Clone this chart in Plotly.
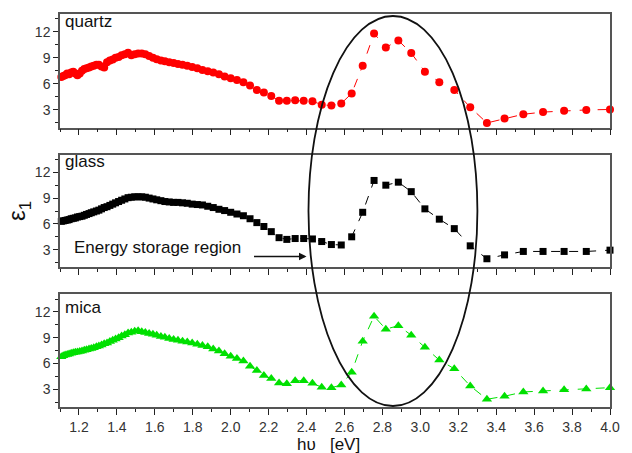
import plotly.graph_objects as go

# photon energy grid (eV)
energy = [1.107, 1.117, 1.127, 1.138, 1.148, 1.159, 1.170, 1.181, 1.192, 1.204,
          1.216, 1.228, 1.240, 1.253, 1.265, 1.278, 1.292, 1.305, 1.319, 1.333,
          1.348, 1.363, 1.378, 1.393, 1.409, 1.425, 1.442, 1.459, 1.476, 1.494,
          1.512, 1.531, 1.550, 1.570, 1.590, 1.610, 1.632, 1.653, 1.676, 1.699,
          1.722, 1.746, 1.771, 1.797, 1.824, 1.851, 1.879, 1.908, 1.938, 1.968,
          2.000, 2.033, 2.067, 2.102, 2.138, 2.175, 2.214, 2.255, 2.296, 2.340,
          2.385, 2.431, 2.480, 2.531, 2.583, 2.638, 2.696, 2.756, 2.818, 2.884,
          2.952, 3.024, 3.100, 3.179, 3.263, 3.351, 3.444, 3.543, 3.647, 3.758,
          3.875, 4.000]

quartz = [6.8, 6.9, 7.0, 7.2, 7.1, 7.3, 7.4, 7.2, 7.0, 7.2,
          7.5, 7.7, 7.8, 7.9, 8.0, 8.1, 8.2, 8.2, 8.0, 7.9,
          8.5, 8.7, 8.8, 9.0, 9.1, 9.3, 9.4, 9.6, 9.3, 9.4,
          9.5, 9.5, 9.4, 9.2, 9.0, 8.85, 8.7, 8.6, 8.5, 8.4,
          8.3, 8.2, 8.1, 7.95, 7.8, 7.6, 7.45, 7.3, 7.1, 6.85,
          6.65, 6.45, 6.2, 5.8, 5.3, 5.0, 4.6, 4.05, 4.05, 4.1,
          4.05, 4.0, 3.6, 3.5, 3.75, 4.9, 8.1, 11.8, 10.2, 11.0,
          9.55, 7.4, 6.2, 5.3, 3.3, 1.5, 2.0, 2.5, 2.75, 2.9,
          3.0, 3.05]

glass = [6.3, 6.35, 6.4, 6.45, 6.5, 6.6, 6.65, 6.7, 6.8, 6.85,
         6.9, 7.0, 7.1, 7.2, 7.3, 7.4, 7.5, 7.6, 7.75, 7.9,
         8.0, 8.15, 8.3, 8.45, 8.6, 8.75, 8.9, 9.05, 9.1, 9.15,
         9.15, 9.15, 9.1, 9.0, 8.9, 8.8, 8.7, 8.6, 8.55, 8.5,
         8.5, 8.45, 8.4, 8.3, 8.25, 8.2, 8.05, 7.9, 7.7, 7.55,
         7.35, 7.15, 6.95, 6.6, 6.15, 5.7, 5.1, 4.4, 4.2, 4.3,
         4.3, 4.25, 3.95, 3.6, 3.55, 4.5, 7.35, 11.05, 10.5, 10.85,
         9.75, 7.75, 6.55, 5.45, 3.45, 1.95, 2.4, 2.8, 2.8, 2.8,
         2.8, 2.95]

mica = [6.8, 6.9, 7.0, 7.05, 7.1, 7.2, 7.25, 7.3, 7.35, 7.4,
        7.45, 7.55, 7.6, 7.7, 7.75, 7.85, 7.95, 8.05, 8.15, 8.3,
        8.4, 8.55, 8.7, 8.85, 9.0, 9.2, 9.35, 9.55, 9.65, 9.75,
        9.8, 9.7, 9.6, 9.5, 9.4, 9.3, 9.15, 9.05, 8.9, 8.8,
        8.7, 8.6, 8.5, 8.4, 8.25, 8.1, 7.95, 7.7, 7.45, 7.15,
        6.85, 6.6, 6.3, 5.7, 5.2, 4.6, 4.25, 3.75, 3.65, 4.0,
        4.0, 3.7, 3.25, 3.2, 3.5, 5.0, 8.6, 11.5, 10.0, 10.4,
        9.3, 7.9, 6.4, 5.4, 3.4, 1.85, 2.2, 2.7, 2.8, 2.95,
        3.05, 3.2]

panel_names = ["quartz", "glass", "mica"]
y_ticks = [3, 6, 9, 12]

W, H = 632, 453
ML, MR, MT, MB = 60, 12, 13, 46
PW, PH = W - ML - MR, H - MT - MB


def px2x(px):
    return (px - ML) / PW


def py2y(py):
    return (H - MB - py) / PH


fig = go.Figure()

series = [
    (quartz, "x", "y", dict(symbol="circle", size=8, color="#ff0000"), "#ff0000"),
    (glass, "x2", "y2", dict(symbol="square", size=7, color="#000000"), "#000000"),
    (mica, "x3", "y3", dict(symbol="triangle-up", size=9, color="#00e000"), "#00e000"),
]
for vals, xa, ya, mk, col in series:
    fig.add_trace(go.Scatter(
        x=energy, y=vals, xaxis=xa, yaxis=ya, mode="lines+markers",
        line=dict(color=col, width=1, dash="dash"), marker=mk,
        showlegend=False, cliponaxis=False))

domains = [
    [py2y(127), py2y(13)],
    [py2y(267), py2y(154)],
    [py2y(407), py2y(294)],
]

axis_line = "#555555"
tick_font = dict(family="Liberation Sans, Arial, sans-serif", size=14, color="#333333")

layout = dict(
    width=W, height=H,
    margin=dict(l=ML, r=MR, t=MT, b=MB),
    paper_bgcolor="white", plot_bgcolor="white",
    showlegend=False,
)

for i in range(3):
    sx = "" if i == 0 else str(i + 1)
    layout["xaxis" + sx] = dict(
        domain=[0, 1], anchor="y" + sx, range=[1.1, 4.0],
        showgrid=False, zeroline=False,
        showline=True, linecolor=axis_line, linewidth=1.5, mirror=True,
        ticks="outside", ticklen=6, tickwidth=1.2, tickcolor="#222222",
        dtick=0.2, tick0=0, tickformat=".1f",
        minor=dict(dtick=0.1, tick0=0, ticks="outside", ticklen=3,
                   tickwidth=1, tickcolor="#222222", showgrid=False),
        showticklabels=(i == 2), tickfont=tick_font,
    )
    layout["yaxis" + sx] = dict(
        domain=domains[i], anchor="x" + sx, range=[0.95, 14.05],
        showgrid=False, zeroline=False,
        showline=True, linecolor=axis_line, linewidth=1.5, mirror=True,
        ticks="outside", ticklen=5, tickwidth=1.2, tickcolor="#222222",
        tickvals=y_ticks, ticktext=[str(v) for v in y_ticks],
        minor=dict(dtick=1.5, tick0=0, ticks="outside", ticklen=3,
                   tickwidth=1, tickcolor="#222222", showgrid=False),
        tickfont=tick_font,
    )

# y-axis title on the middle panel (rotated)
layout["yaxis2"]["title"] = dict(
    text="\u03b5<sub>1</sub>", standoff=2,
    font=dict(family="Liberation Sans, Arial, sans-serif", size=24, color="#111111"))

fig.update_layout(**layout)

label_font = dict(family="Liberation Sans, Arial, sans-serif", size=17, color="#111111")
label_y = [21, 161, 307]
for name, ly in zip(panel_names, label_y):
    fig.add_annotation(text=name, xref="paper", yref="paper",
                       x=px2x(63), y=py2y(ly), xanchor="left", yanchor="middle",
                       showarrow=False, font=label_font)

# energy storage region text + arrow
fig.add_annotation(text="Energy storage region", xref="paper", yref="paper",
                   x=px2x(159), y=py2y(247), xanchor="center", yanchor="middle",
                   showarrow=False, font=label_font)
fig.add_annotation(text="", xref="paper", yref="paper",
                   x=px2x(311), y=py2y(256), ax=-54, ay=0,
                   showarrow=True, arrowhead=2, arrowsize=1, arrowwidth=1.5,
                   arrowcolor="#111111")

# x-axis title
fig.add_annotation(text="h\u03c5\u00a0\u00a0\u00a0[eV]", xref="paper", yref="paper",
                   x=px2x(333), y=py2y(445), xanchor="center", yanchor="middle",
                   showarrow=False, font=label_font)

# ellipse marking the region
fig.add_shape(type="circle", xref="paper", yref="paper",
              x0=px2x(313), x1=px2x(485), y0=py2y(406), y1=py2y(15),
              line=dict(color="#111111", width=1.8), layer="above")

fig.write_html("out.html")
